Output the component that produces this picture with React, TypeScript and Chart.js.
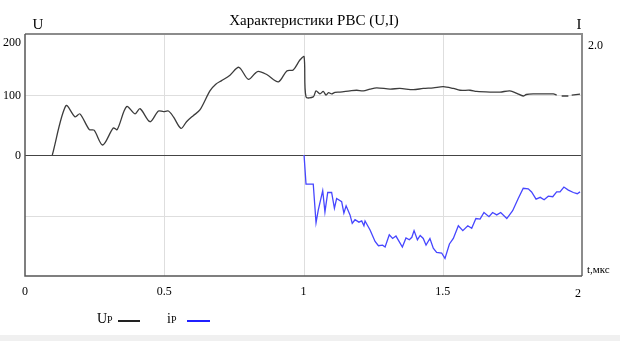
import React, { useEffect, useRef } from "react";
import { Chart, registerables } from "chart.js";

Chart.register(...registerables);

const TITLE = "Характеристики РВС (U,I)";
const xTicks = [0, 0.5, 1, 1.5, 2];
const xTickLabels = ["0", "0.5", "1", "1.5", "2"];
const uTicks = [200, 100, 0];
const uTickLabels = ["200", "100", "0"];
const iTickLabels = ["2.0"];

const tU = [
  0.098, 0.147, 0.18, 0.197, 0.231, 0.248, 0.279, 0.317, 0.331, 0.365, 0.395, 0.413, 0.449, 0.479, 0.497,
  0.515, 0.533, 0.56, 0.58, 0.604, 0.628, 0.664, 0.685, 0.706, 0.736, 0.768, 0.802, 0.835, 0.868, 0.91,
  0.94, 0.963, 0.987, 1.002, 1.009, 1.035, 1.045, 1.059, 1.071, 1.081, 1.09, 1.101, 1.113, 1.131, 1.167,
  1.191, 1.215, 1.239, 1.263, 1.311, 1.346, 1.394, 1.43, 1.466, 1.502, 1.538, 1.562, 1.598, 1.622, 1.67,
  1.706, 1.741, 1.766, 1.789, 1.8, 1.825, 1.86, 1.897, 1.909, 1.915, 1.927, 1.951, 1.957, 1.963, 1.993,
];
const vU = [
  0, 81.5, 63, 68, 42, 41, 16.5, 44.6, 42, 80, 68, 76.6, 55, 72.7, 71.6,
  72.7, 63, 44, 55, 65, 74.4, 106, 117, 123, 132, 145, 125, 138, 133, 121,
  139, 140.5, 157, 162.5, 96, 96, 106, 101, 105, 99, 103, 101, 103.6, 104, 106,
  107, 106, 109, 111, 109, 110, 108, 110, 111, 113, 110, 107, 107, 105, 104,
  104, 106, 102, 97.5, 100, 101, 101, 101, 99, null, 97.5, 97.5, null, 99, 100.5,
];

const tI = [
  1.002, 1.009, 1.035, 1.045, 1.053, 1.069, 1.077, 1.087, 1.101, 1.111, 1.119, 1.137, 1.145, 1.153, 1.167,
  1.175, 1.185, 1.199, 1.209, 1.217, 1.221, 1.239, 1.257, 1.269, 1.284, 1.293, 1.308, 1.32, 1.332, 1.355,
  1.368, 1.38, 1.389, 1.397, 1.409, 1.419, 1.43, 1.44, 1.454, 1.466, 1.478, 1.496, 1.508, 1.524, 1.538,
  1.556, 1.572, 1.59, 1.604, 1.619, 1.634, 1.648, 1.666, 1.679, 1.694, 1.708, 1.73, 1.751, 1.771, 1.789,
  1.807, 1.819, 1.835, 1.85, 1.864, 1.879, 1.895, 1.909, 1.921, 1.935, 1.951, 1.969, 1.983, 1.993,
];
const vI = [
  0, -0.48, -0.48, -1.12, -0.91, -0.59, -0.94, -0.62, -0.62, -0.88, -0.72, -0.77, -0.96, -0.84, -0.99,
  -1.13, -1.07, -1.11, -1.09, -1.17, -1.09, -1.24, -1.43, -1.5, -1.49, -1.52, -1.32, -1.38, -1.34, -1.52,
  -1.37, -1.4, -1.36, -1.25, -1.4, -1.33, -1.38, -1.49, -1.38, -1.54, -1.61, -1.62, -1.71, -1.47, -1.38,
  -1.17, -1.25, -1.17, -1.21, -1.05, -1.06, -0.95, -1.02, -0.95, -0.99, -0.95, -1.05, -0.92, -0.72, -0.55,
  -0.56, -0.61, -0.73, -0.7, -0.74, -0.68, -0.69, -0.61, -0.61, -0.53, -0.58, -0.62, -0.64, -0.61,
];

const FONT = "'Liberation Serif', 'Times New Roman', serif";

const decor = {
  id: "decor",
  beforeDatasetsDraw(chart: any) {
    const { ctx, chartArea: a, scales } = chart;
    const x = scales.x;
    const y = scales.y;
    ctx.save();
    ctx.lineWidth = 1;
    ctx.strokeStyle = "#dedede";
    [0.5, 1, 1.5].forEach((v) => {
      const px = Math.round(x.getPixelForValue(v)) + 0.5;
      ctx.beginPath();
      ctx.moveTo(px, a.top);
      ctx.lineTo(px, a.bottom);
      ctx.stroke();
    });
    [100, -100].forEach((v) => {
      const py = Math.round(y.getPixelForValue(v)) + 0.5;
      ctx.beginPath();
      ctx.moveTo(a.left, py);
      ctx.lineTo(a.right, py);
      ctx.stroke();
    });
    ctx.strokeStyle = "#444";
    const zy = Math.round(y.getPixelForValue(0)) + 0.5;
    ctx.beginPath();
    ctx.moveTo(a.left, zy);
    ctx.lineTo(a.right, zy);
    ctx.stroke();
    ctx.restore();
  },
  afterDatasetsDraw(chart: any) {
    const { ctx, chartArea: a, scales } = chart;
    const x = scales.x;
    const y = scales.y;
    ctx.save();
    // frame
    ctx.lineWidth = 2;
    ctx.strokeStyle = "#8c8c8c";
    ctx.beginPath();
    ctx.moveTo(a.left, a.top);
    ctx.lineTo(a.right, a.top);
    ctx.lineTo(a.right, a.bottom);
    ctx.stroke();
    ctx.lineWidth = 1.5;
    ctx.strokeStyle = "#555";
    ctx.beginPath();
    ctx.moveTo(a.left, a.top);
    ctx.lineTo(a.left, a.bottom);
    ctx.lineTo(a.right, a.bottom);
    ctx.stroke();

    ctx.fillStyle = "#000";
    ctx.textBaseline = "middle";
    // title
    ctx.font = `15px ${FONT}`;
    ctx.textAlign = "center";
    ctx.fillText(TITLE, 314, 21);
    ctx.font = `15px ${FONT}`;
    ctx.fillText("U", 38, 25);
    ctx.fillText("I", 579, 25);

    // left ticks
    ctx.font = `12px ${FONT}`;
    ctx.textAlign = "right";
    uTicks.forEach((v, i) => {
      let py = y.getPixelForValue(v);
      if (v === 200) py += 8;
      ctx.fillText(uTickLabels[i], 21, py + 1);
    });
    // right tick
    ctx.textAlign = "left";
    ctx.fillText(iTickLabels[0], 588, a.top + 12);
    // x ticks
    ctx.textAlign = "center";
    xTicks.forEach((v, i) => {
      let px = x.getPixelForValue(v);
      if (i === xTicks.length - 1) px -= 4;
      ctx.fillText(xTickLabels[i], px, i === xTicks.length - 1 ? 294 : 292);
    });
    ctx.font = `11px ${FONT}`;
    ctx.textAlign = "left";
    ctx.fillText("t,мкс", 587, 270);

    // legend
    ctx.font = `14px ${FONT}`;
    ctx.fillText("U", 97, 319);
    ctx.font = `10px ${FONT}`;
    ctx.fillText("P", 107, 320);
    ctx.lineWidth = 2;
    ctx.strokeStyle = "#222";
    ctx.beginPath();
    ctx.moveTo(118, 321);
    ctx.lineTo(140, 321);
    ctx.stroke();
    ctx.font = `14px ${FONT}`;
    ctx.fillText("i", 167, 319);
    ctx.font = `10px ${FONT}`;
    ctx.fillText("P", 171, 320);
    ctx.strokeStyle = "#2020ff";
    ctx.beginPath();
    ctx.moveTo(187, 321);
    ctx.lineTo(210, 321);
    ctx.stroke();

    // bottom strip
    ctx.fillStyle = "#f0f0f0";
    ctx.fillRect(0, 335, 620, 6);
    ctx.restore();
  },
};

export default function App() {
  const ref = useRef<HTMLCanvasElement>(null);
  useEffect(() => {
    document.body.style.margin = "0";
    const chart = new Chart(ref.current as HTMLCanvasElement, {
      type: "line",
      data: {
        datasets: [
          {
            label: "Up",
            data: tU.map((t, i) => ({ x: t, y: vU[i] })),
            yAxisID: "y",
            borderColor: "#3c3c3c",
            borderWidth: 1.3,
            pointRadius: 0,
            tension: 0.3,
            spanGaps: false,
          },
          {
            label: "ip",
            data: tI.map((t, i) => ({ x: t, y: vI[i] })),
            yAxisID: "y2",
            borderColor: "#4646ff",
            borderWidth: 1.3,
            pointRadius: 0,
            tension: 0,
          },
        ],
      },
      options: {
        responsive: false,
        animation: false,
        devicePixelRatio: 1,
        layout: { padding: { left: 25, right: 38, top: 34, bottom: 84 } },
        plugins: { legend: { display: false }, tooltip: { enabled: false }, title: { display: false } },
        scales: {
          x: { type: "linear", min: 0, max: 2, display: false },
          y: { type: "linear", min: -200, max: 200, display: false },
          y2: { type: "linear", min: -2, max: 2, display: false, position: "right" },
        },
      },
      plugins: [decor],
    } as any);
    return () => chart.destroy();
  }, []);
  return (
    <div style={{ position: "absolute", left: 0, top: 0, width: 620, height: 360, background: "#fff" }}>
      <canvas ref={ref} width={620} height={360} />
    </div>
  );
}
